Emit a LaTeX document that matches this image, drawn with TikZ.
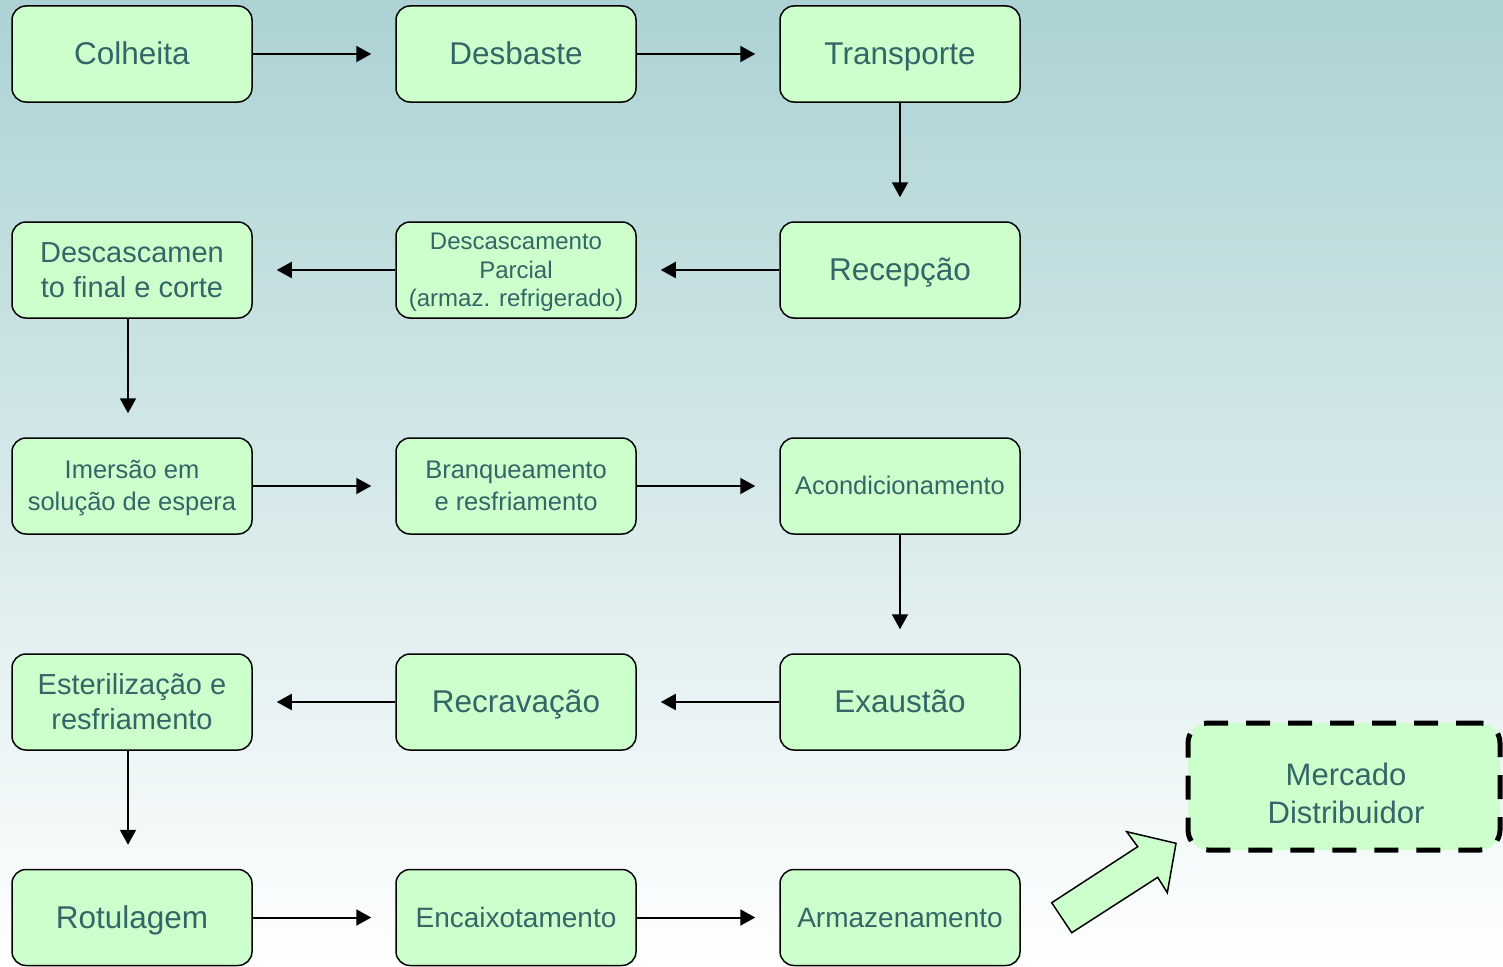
\documentclass[tikz,border=0pt]{standalone}
\usepackage{fontspec}
\setmainfont{Liberation Sans}
\usetikzlibrary{arrows.meta}
\definecolor{bgtop}{RGB}{172,210,212}
\definecolor{boxfill}{RGB}{204,255,204}
\definecolor{txt}{RGB}{51,102,102}
% line strut with the font's ascent and descent, so every line box has the same size
\newcommand\lnstrut{\rule[-0.212em]{0pt}{1.117em}}
\begin{document}
\begin{tikzpicture}[x=1pt,y=-1pt,
  stepbox/.style={draw=black, line width=1.5pt, fill=boxfill, rounded corners=14pt,
    minimum width=240pt, minimum height=96pt, inner sep=0pt, text=txt, align=center},
  flow/.style={line width=2pt, -{Triangle[length=15pt,width=16pt]}, shorten >=24pt},
  fbig/.style={font=\fontsize{31.5}{37}\selectfont},
  fmid/.style={font=\fontsize{29}{35.5}\selectfont},
  fstd/.style={font=\fontsize{28}{34}\selectfont},
  fsmall/.style={font=\fontsize{25.5}{32}\selectfont},
  ftiny/.style={font=\fontsize{24}{28.5}\selectfont},
  marketbox/.style={draw=black, line width=5pt, dash pattern=on 24pt off 18pt,
    fill=boxfill, rounded corners=20pt, minimum width=312pt, minimum height=127pt},
]
\useasboundingbox (0,0) rectangle (1503,966);
% background wash
\shade[top color=bgtop, bottom color=white] (0,0) rectangle (1503,966);

% process steps
\node[stepbox, fbig]   (colheita)  at (132,54)  {\lnstrut Colheita};
\node[stepbox, fbig]   (desbaste)  at (516,54)  {\lnstrut Desbaste};
\node[stepbox, fbig]   (transp)    at (900,54)  {\lnstrut Transporte};

\node[stepbox, fbig]   (recep)     at (900,270) {\lnstrut Recepção};
\node[stepbox, ftiny]  (descparc)  at (516,270) {\lnstrut Descascamento\\\lnstrut Parcial\\\lnstrut (armaz. refrigerado)};
\node[stepbox, fmid]   (descfin)   at (132,270) {\lnstrut Descascamen\\\lnstrut to final e corte};

\node[stepbox, fsmall] (imersao)   at (132,486) {\lnstrut Imersão em\\\lnstrut solução de espera};
\node[stepbox, fsmall] (branq)     at (516,486) {\lnstrut Branqueamento\\\lnstrut e resfriamento};
\node[stepbox, fsmall] (acond)     at (900,486) {\lnstrut Acondicionamento};

\node[stepbox, fbig]   (exaust)    at (900,702) {\lnstrut Exaustão};
\node[stepbox, fbig]   (recrav)    at (516,702) {\lnstrut Recravação};
\node[stepbox, fmid]   (esteril)   at (132,702) {\lnstrut Esterilização e\\\lnstrut resfriamento};

\node[stepbox, fbig]   (rotul)     at (132,917.5) {\lnstrut Rotulagem};
\node[stepbox, fstd]   (encaix)    at (516,917.5) {\lnstrut Encaixotamento};
\node[stepbox, fstd]   (armaz)     at (900,917.5) {\lnstrut Armazenamento};

% flow connectors
\draw[flow] (colheita) -- (desbaste);
\draw[flow] (desbaste) -- (transp);
\draw[flow] (transp) -- (recep);
\draw[flow] (recep) -- (descparc);
\draw[flow] (descparc) -- (descfin);
\draw[flow] (descfin.south -| 128,0) -- (imersao.north -| 128,0);
\draw[flow] (imersao) -- (branq);
\draw[flow] (branq) -- (acond);
\draw[flow] (acond) -- (exaust);
\draw[flow] (exaust) -- (recrav);
\draw[flow] (recrav) -- (esteril);
\draw[flow] (esteril.south -| 128,0) -- (rotul.north -| 128,0);
\draw[flow] (rotul) -- (encaix);
\draw[flow] (encaix) -- (armaz);

% market destination
\node[marketbox] (market) at (1344,786.5) {};
\node[text=txt, align=center, inner sep=0pt, font=\fontsize{31}{38}\selectfont] (markettxt)
  at (1346,794) {\lnstrut Mercado\\\lnstrut Distribuidor};

% block arrow towards the market
\draw[fill=boxfill, line width=1.5pt, line join=miter]
  (1051.7,902.7) -- (1137.7,846.7) -- (1126.7,831.7) -- (1176,843.3)
  -- (1167.3,892.7) -- (1157.7,877.3) -- (1071.7,932.7) -- cycle;
\end{tikzpicture}
\end{document}
